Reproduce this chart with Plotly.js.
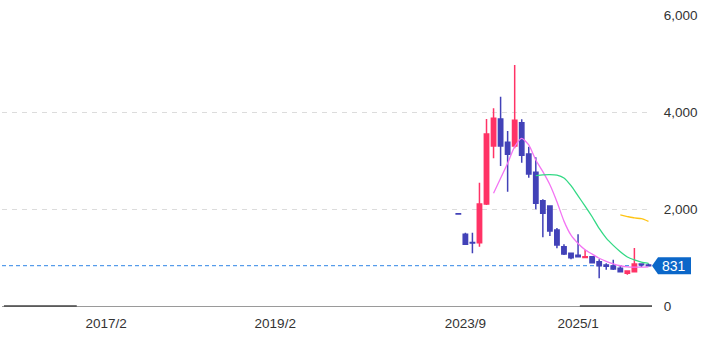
<!DOCTYPE html>
<html>
<head>
<meta charset="utf-8">
<script src="https://cdn.plot.ly/plotly-3.0.1.min.js"></script>
<style>html,body{margin:0;padding:0;background:#fff;}#chart{width:709px;height:338px;}</style>
</head>
<body>
<div id="chart"></div>
<script>
// Candle periods (monthly)
const months = ['2023/8','2023/9','2023/10','2023/11','2023/12','2024/1','2024/2','2024/3','2024/4','2024/5','2024/6','2024/7','2024/8','2024/9','2024/10','2024/11','2024/12','2025/1','2025/2','2025/3','2025/4','2025/5','2025/6','2025/7','2025/8','2025/9','2025/10','2025/11'];
const openV  = [1900,1478,1310,1305,2103,3299,3856,3375,3299,3780,3134,2757,2171,2062,1567,1223,1087,1045,1000,1017, 913, 845, 825, 777, 674, 707, 866, 845];
const highV  = [1900,1511,1511,2543,3856,4077,4316,3608,4969,3850,3285,3066,2200,2070,1608,1272,1100,1478,1160,1030, 963, 880, 955, 825, 728,1195, 880, 875];
const lowV   = [1895,1258,1087,1223,2083,3045,2887,2357,3251,2955,2646,1994,1417,1443,1190,1052, 963,1000,1000, 886, 571, 750, 742, 701, 645, 701, 804, 815];
const closeV = [1895,1272,1300,2103,3547,3870,3299,3128,3829,3107,2722,2118,1911,1547,1258,1072, 996,1017,1017, 893, 831, 818, 763, 707, 722, 866, 850, 831];
// Moving averages
const maShort = [null,null,null,null,null,2324,2633,2943,3285,3458,3320,3010,2770,2500,2150,1750,1460,1290,1160,1070,985,920,870,830,805,800,800,805];
const maMid   = [null,null,null,null,null,null,null,null,null,null,null,2690,2705,2710,2700,2640,2480,2270,2060,1840,1600,1400,1250,1120,1010,950,905,880];
const maLong  = [null,null,null,null,null,null,null,null,null,null,null,null,null,null,null,null,null,null,null,null,null,null,null,1877,1845,1815,1800,1745];
// Axis tick labels
const tickLabels = ['2017/2','2019/2','2023/9','2025/1'];

// Axis slots: earlier empty monthly slots, then the candle months
const slots = [];
function pushMonths(y, m, n){ for(let i=0;i<n;i++){ slots.push(y+'/'+m); m++; if(m>12){m=1;y++;} } }
pushMonths(2015, 11, 40);   // 2015/11 .. 2019/2
pushMonths(2019, 3, 25);    // filler slots
months.forEach(m => slots.push(m));
const i0 = slots.indexOf('2023/9');
const lastPrice = closeV[closeV.length-1];

const UP = '#ff3366', DOWN = '#4242b8';
const traces = [
  {type:'candlestick', x:months, open:openV, high:highV, low:lowV, close:closeV,
   increasing:{line:{color:UP,width:1.5}, fillcolor:UP},
   decreasing:{line:{color:DOWN,width:1.5}, fillcolor:DOWN},
   whiskerwidth:0, hoverinfo:'skip', showlegend:false},
  {type:'scatter', mode:'lines', x:months, y:maShort, line:{color:'#f374f3',width:1.3,shape:'spline',smoothing:0.6}, showlegend:false, hoverinfo:'skip'},
  {type:'scatter', mode:'lines', x:months, y:maMid, line:{color:'#33d985',width:1.3,shape:'spline',smoothing:0.6}, showlegend:false, hoverinfo:'skip'},
  {type:'scatter', mode:'lines', x:months, y:maLong, line:{color:'#ffc414',width:1.3,shape:'spline',smoothing:0.6}, showlegend:false, hoverinfo:'skip'}
];

const layout = {
  width:709, height:338,
  margin:{l:2, r:57, t:15, b:32},
  paper_bgcolor:'#fff', plot_bgcolor:'#fff',
  font:{family:'"Liberation Sans", Arial, sans-serif', size:13.5, color:'#333'},
  boxgap:0.12,
  showlegend:false,
  xaxis:{type:'category', categoryorder:'array', categoryarray:slots,
    range:[i0-65.8, i0+26.5], rangeslider:{visible:false},
    tickmode:'array', tickvals:tickLabels, ticktext:tickLabels,
    showgrid:false, zeroline:false, showline:true, linecolor:'#9a9a9a', linewidth:1.2,
    ticks:'outside', ticklen:5, tickcolor:'rgba(0,0,0,0)', tickfont:{size:13.5,color:'#333'}, fixedrange:true},
  yaxis:{side:'right', range:[0,6000], tickvals:[0,2000,4000,6000], tickformat:',d',
    showgrid:true, gridcolor:'#dcdcdc', griddash:'5px,5px', zeroline:false, showline:false,
    ticks:'outside', ticklen:8, tickcolor:'rgba(0,0,0,0)', tickfont:{size:13.5,color:'#333'}, fixedrange:true},
  shapes:[
    {type:'line', xref:'paper', yref:'y', x0:0, x1:1, y0:lastPrice, y1:lastPrice, line:{color:'#2f86e6', width:1, dash:'4px,3px'}, layer:'below'},
    {type:'line', xref:'paper', yref:'paper', x0:0.003, x1:0.115, y0:0, y1:0, line:{color:'#444', width:1.5}},
    {type:'line', xref:'paper', yref:'paper', x0:0.889, x1:1, y0:0, y1:0, line:{color:'#444', width:1.5}},
    {type:'path', xref:'paper', xsizemode:'pixel', xanchor:1, yref:'y', ysizemode:'pixel', yanchor:lastPrice,
     path:'M 0 0 L 6 8.5 L 39 8.5 L 39 -8.5 L 6 -8.5 Z', fillcolor:'#0b67c9', line:{width:0}}
  ],
  annotations:[
    {xref:'paper', x:1, xanchor:'left', xshift:8, yref:'y', y:lastPrice, yanchor:'middle', text:String(lastPrice), showarrow:false, font:{color:'#fff', size:14}}
  ]
};
Plotly.newPlot('chart', traces, layout, {displayModeBar:false, staticPlot:true});
</script>
</body>
</html>
